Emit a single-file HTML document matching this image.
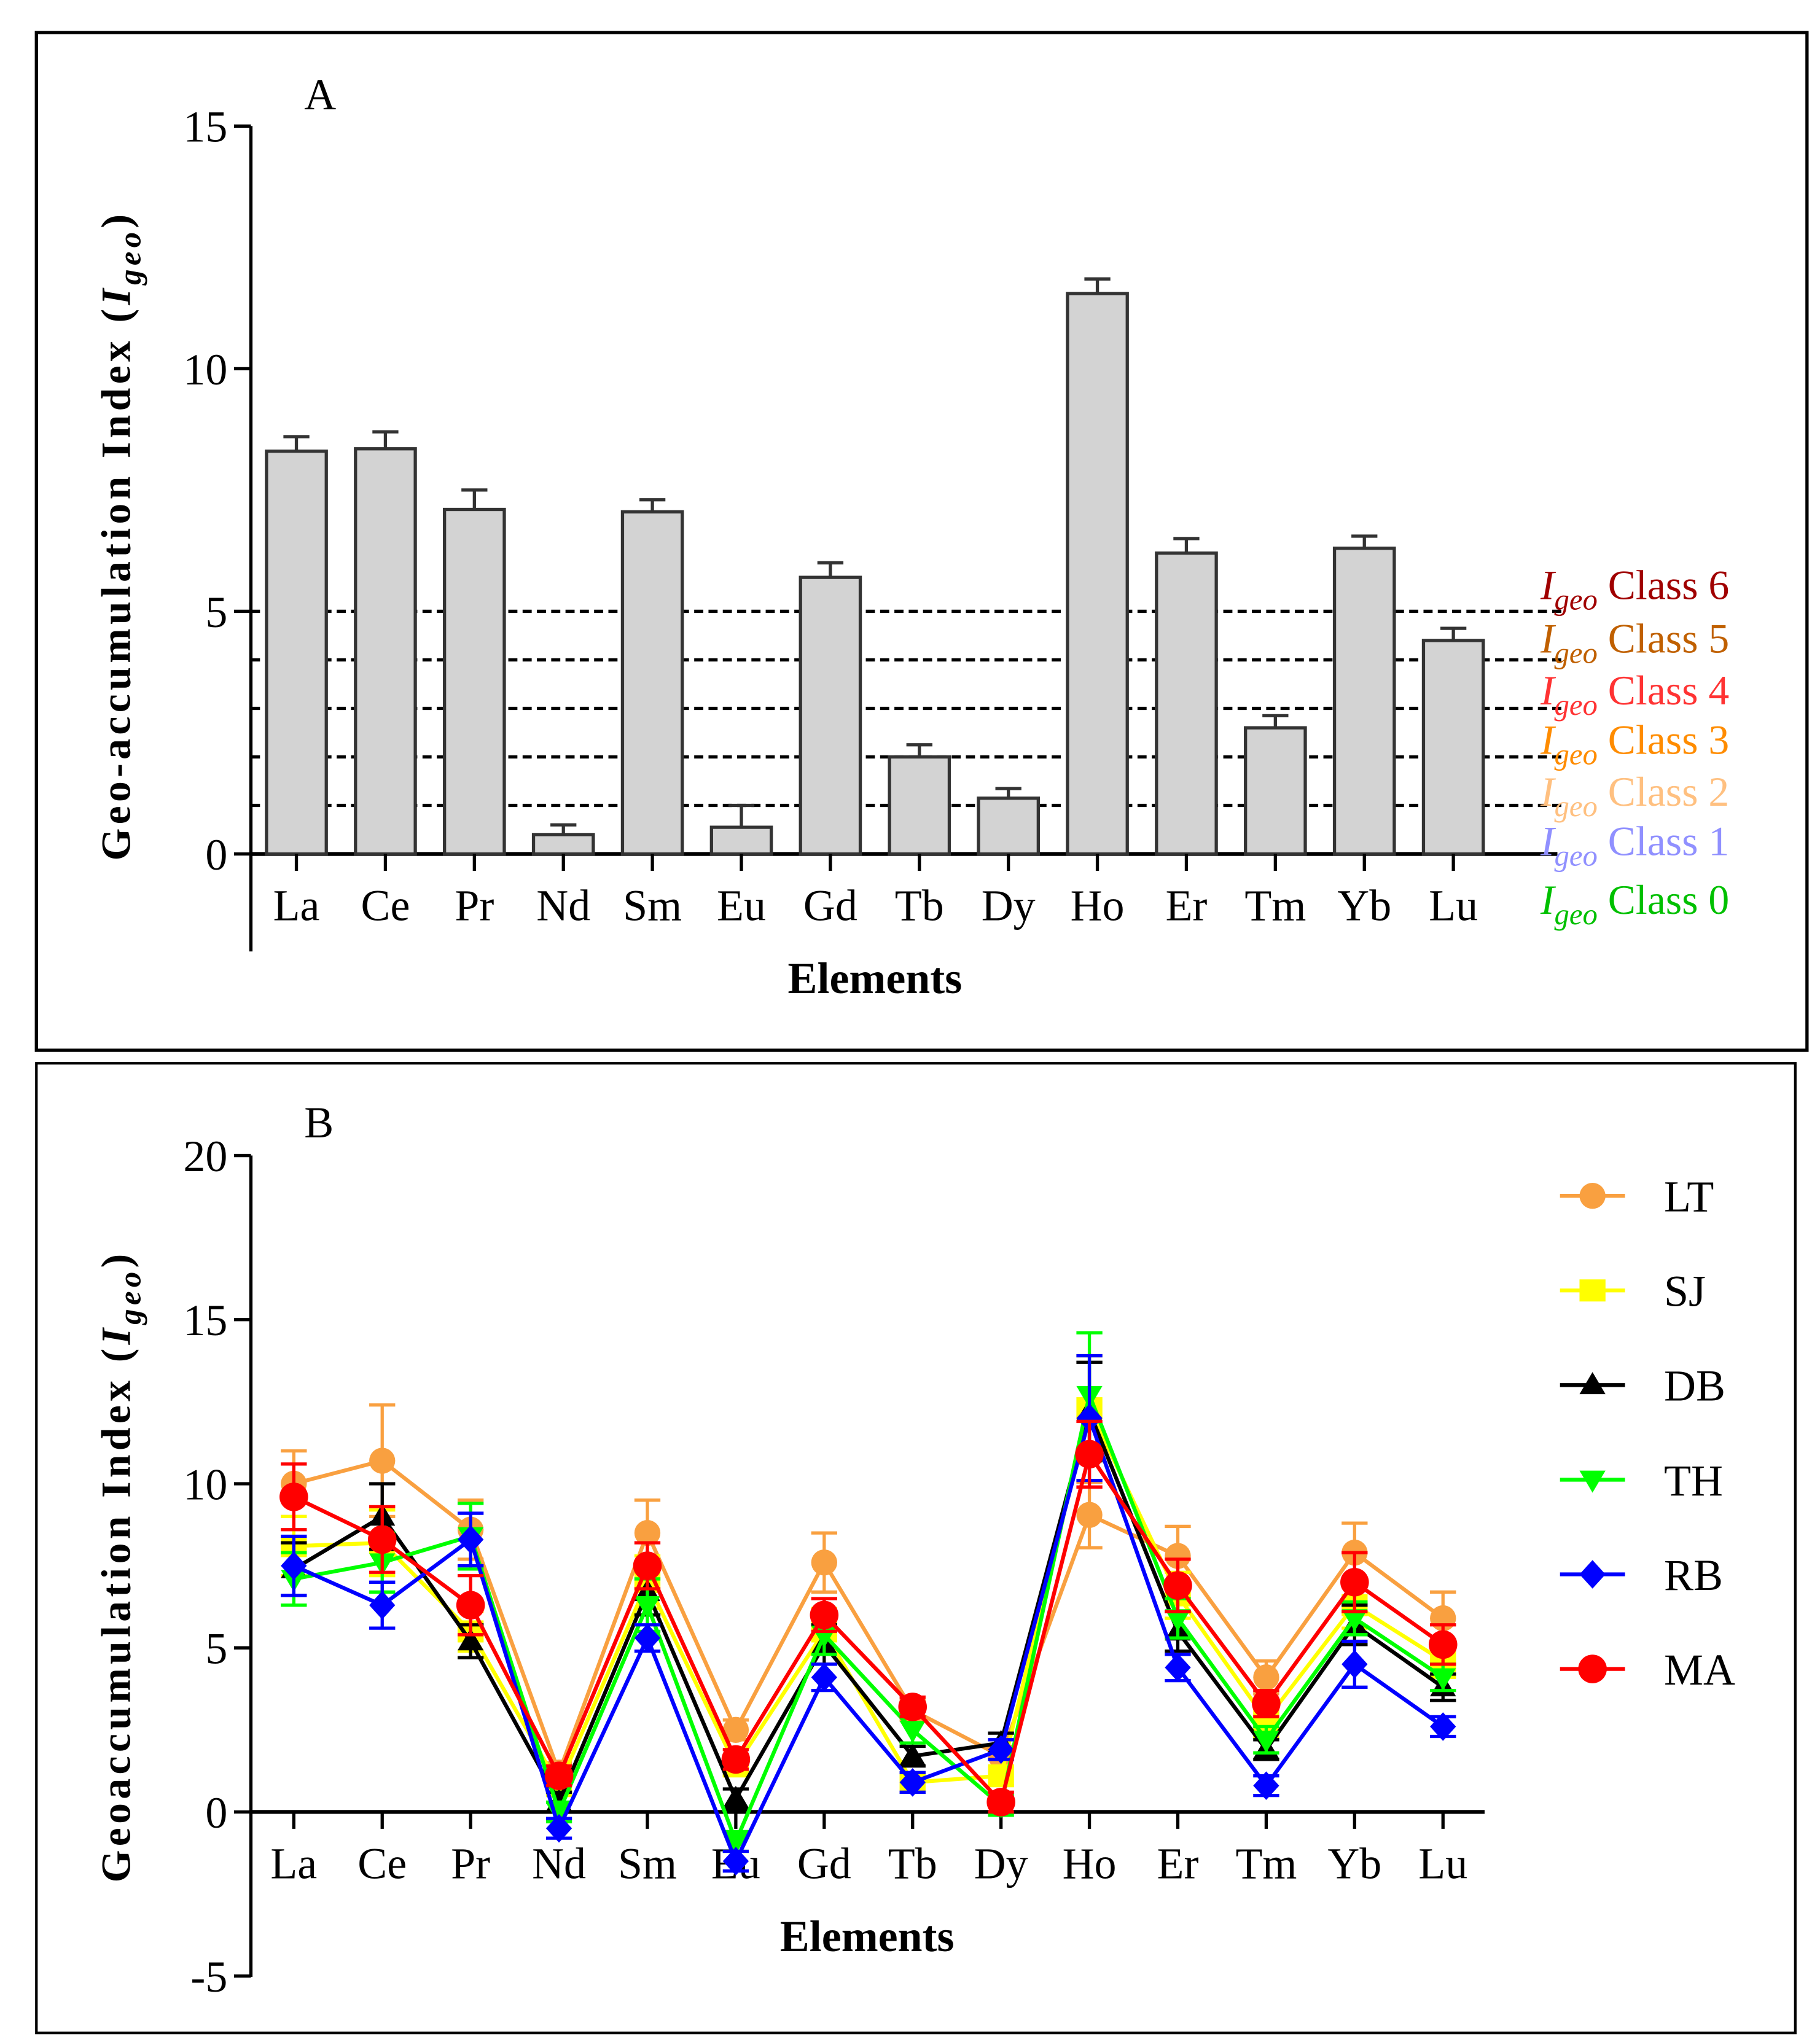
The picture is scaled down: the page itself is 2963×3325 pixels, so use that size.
<!DOCTYPE html>
<html><head><meta charset="utf-8"><style>
html,body{margin:0;padding:0;background:#fff}
svg{display:block}
text{font-family:"Liberation Serif",serif}
</style></head><body>
<svg id="fig" width="2963" height="3325" viewBox="0 0 1400 1571" preserveAspectRatio="none" xmlns="http://www.w3.org/2000/svg">
<rect x="28" y="25" width="1362" height="783" fill="none" stroke="#000" stroke-width="2.5"/>
<rect x="28" y="818" width="1353" height="746" fill="none" stroke="#000" stroke-width="2"/>
<text x="234" y="84" font-size="34">A</text>
<text x="234" y="875" font-size="34">B</text>
<g id="ga"></g>
<g id="gb"></g>
</svg>
<script>
const elements=["La","Ce","Pr","Nd","Sm","Eu","Gd","Tb","Dy","Ho","Er","Tm","Yb","Lu"];
const meanA=[8.3,8.35,7.1,0.4,7.05,0.55,5.7,2.0,1.15,11.55,6.2,2.6,6.3,4.4];
const errA=[0.3,0.35,0.4,0.2,0.25,0.45,0.3,0.25,0.2,0.3,0.3,0.25,0.25,0.25];
const ticksA=[0,5,10,15];
const classLevels=[5,4,3,2,1];
const classNames=["Class 6","Class 5","Class 4","Class 3","Class 2","Class 1","Class 0"];
const classColors=["#a00000","#c06000","#ff3333","#ff8c00","#ffc080","#9090ff","#00c000"];
const seriesNames=["LT","SJ","DB","TH","RB","MA"];
const seriesColors=["#f9a040","#ffff00","#000000","#00ff00","#0000ff","#ff0000"];
const seriesMarkers=["circle","square","triangle","triangleDown","diamond","circle"];
const valLT=[10.0,10.7,8.6,1.2,8.5,2.5,7.6,3.1,1.7,9.05,7.8,4.1,7.9,5.9];
const valSJ=[8.1,8.2,5.5,0.8,7.0,1.4,5.5,0.9,1.1,12.3,6.6,2.8,6.3,4.6];
const valDB=[7.4,9.0,5.2,0.3,6.7,0.4,5.1,1.7,2.1,12.2,5.5,1.9,5.7,3.8];
const valTH=[7.1,7.6,8.4,0.0,6.3,-0.9,5.4,2.5,0.2,12.7,5.9,2.2,5.9,4.1];
const valRB=[7.5,6.3,8.3,-0.5,5.3,-1.5,4.1,0.9,1.9,12.0,4.4,0.8,4.5,2.6];
const valMA=[9.6,8.3,6.3,1.1,7.5,1.6,6.0,3.2,0.3,10.9,6.9,3.3,7.0,5.1];
const errLT=[1.0,1.7,0.9,0.3,1.0,0.3,0.9,0.3,0.3,1.0,0.9,0.5,0.9,0.8];
const errSJ=[0.9,1.0,0.6,0.3,0.8,0.3,0.7,0.3,0.3,1.6,0.7,0.5,0.7,0.5];
const errDB=[0.8,1.0,0.5,0.3,0.7,0.3,0.6,0.3,0.3,1.5,0.6,0.3,0.6,0.4];
const errTH=[0.8,0.9,1.0,0.3,0.8,0.3,0.6,0.4,0.3,1.9,0.6,0.4,0.5,0.4];
const errRB=[0.9,0.7,0.8,0.3,0.4,0.3,0.4,0.3,0.3,1.9,0.4,0.3,0.7,0.3];
const errMA=[1.0,1.0,0.9,0.3,0.7,0.3,0.5,0.3,0.3,1.0,0.8,0.4,0.9,0.6];
const ticksB=[-5,0,5,10,15,20];
const NS="http://www.w3.org/2000/svg";
function mk(parent,tag,attrs,txt){const e=document.createElementNS(NS,tag);for(const k in attrs)e.setAttribute(k,attrs[k]);if(txt!==undefined)e.textContent=txt;parent.appendChild(e);return e;}
// Panel A
const ga=document.getElementById('ga');
const yA=v=>657-(v/15)*560;
const xA=i=>228+i*68.46;
mk(ga,'line',{x1:193,y1:97,x2:193,y2:732,stroke:'#000','stroke-width':2.5});
mk(ga,'line',{x1:193,y1:657,x2:1198,y2:657,stroke:'#000','stroke-width':3});
ticksA.forEach(t=>{
 const l=mk(ga,'line',{x1:180,y1:yA(t),x2:193,y2:yA(t),stroke:'#000','stroke-width':2.5});
 
 
 const tx=mk(ga,'text',{x:175,y:yA(t)+12,'font-size':34,'text-anchor':'end'},String(t));
 
 
});
classLevels.forEach(c=>{
 const l=mk(ga,'line',{x1:193,y1:yA(c),x2:1203,y2:yA(c),stroke:'#000','stroke-width':2.5,'stroke-dasharray':'7,4'});
 
 
});
meanA.forEach((v,i)=>{
 const x=xA(i);
 const b=mk(ga,'rect',{x:x-23,y:yA(v),width:46,height:yA(0)-yA(v),fill:'#d3d3d3',stroke:'#333','stroke-width':2.5});
 
 
 const e=mk(ga,'path',{d:`M${x},${yA(v)}V${yA(v+errA[i])}M${x-10},${yA(v+errA[i])}H${x+10}`,stroke:'#333','stroke-width':2.5,fill:'none'});
 
 
 mk(ga,'line',{x1:x,y1:657,x2:x,y2:670,stroke:'#000','stroke-width':2.5});
 const t=mk(ga,'text',{x:x,y:708,'font-size':34,'text-anchor':'middle'},elements[i]);
 
 
});
const clsY=[461,502,542,580,620,658,703];
classNames.forEach((n,i)=>{
 const t=mk(ga,'text',{x:1185,y:clsY[i],'font-size':32,fill:classColors[i]});
 
 
 mk(t,'tspan',{'font-style':'italic'},'I');
 mk(t,'tspan',{'font-style':'italic','font-size':23,dy:8},'geo');
 mk(t,'tspan',{dy:-8},' '+n);
});
{const t=mk(ga,'text',{x:673,y:764,'font-size':34,'font-weight':'bold','text-anchor':'middle'},'Elements');
}
{const t=mk(ga,'text',{transform:'translate(100,412) rotate(-90)','font-size':32,'font-weight':'bold','text-anchor':'middle','letter-spacing':'3'},'Geo-accumulation Index (');

mk(t,'tspan',{'font-style':'italic'},'I');mk(t,'tspan',{'font-style':'italic','font-size':24,dy:8},'geo');mk(t,'tspan',{dy:-8},')');}
// Panel B
const gb=document.getElementById('gb');
const yB=v=>1394-v*25.25;
const xB=i=>226+i*68;
mk(gb,'line',{x1:193,y1:889,x2:193,y2:1521,stroke:'#000','stroke-width':2.5});
mk(gb,'line',{x1:193,y1:1394,x2:1142,y2:1394,stroke:'#000','stroke-width':3});
ticksB.forEach(t=>{
 const l=mk(gb,'line',{x1:180,y1:yB(t),x2:193,y2:yB(t),stroke:'#000','stroke-width':2.5});
 
 
 const tx=mk(gb,'text',{x:175,y:yB(t)+12,'font-size':34,'text-anchor':'end'},String(t));
 
 
});
elements.forEach((el,i)=>{
 const x=xB(i);
 mk(gb,'line',{x1:x,y1:1394,x2:x,y2:1407,stroke:'#000','stroke-width':2.5});
 const t=mk(gb,'text',{x:x,y:1445,'font-size':34,'text-anchor':'middle'},el);
 
 
});
function marker(g,type,x,y,col,r){
 if(type==='circle')return mk(g,'circle',{cx:x,cy:y,r:r,fill:col});
 if(type==='square')return mk(g,'rect',{x:x-r,y:y-r*0.85,width:2*r,height:1.7*r,fill:col});
 if(type==='triangle')return mk(g,'path',{d:`M${x},${y-r}L${x+r},${y+r*0.7}L${x-r},${y+r*0.7}Z`,fill:col});
 if(type==='triangleDown')return mk(g,'path',{d:`M${x},${y+r}L${x+r},${y-r*0.7}L${x-r},${y-r*0.7}Z`,fill:col});
 return mk(g,'path',{d:`M${x},${y-r*1.1}L${x+r},${y}L${x},${y+r*1.1}L${x-r},${y}Z`,fill:col});
}
const allVals=[valLT,valSJ,valDB,valTH,valRB,valMA];
const allErr=[errLT,errSJ,errDB,errTH,errRB,errMA];
allVals.forEach((vals,s)=>{
 const g=mk(gb,'g',{});
 
 
 const col=seriesColors[s];
 vals.forEach((v,i)=>{
  const x=xB(i),e=allErr[s][i];
  mk(g,'path',{d:`M${x},${yB(v-e)}V${yB(v+e)}M${x-10},${yB(v+e)}H${x+10}M${x-10},${yB(v-e)}H${x+10}`,stroke:col,'stroke-width':2.5,fill:'none'});
 });
 mk(g,'polyline',{points:vals.map((v,i)=>xB(i)+','+yB(v)).join(' '),fill:'none',stroke:col,'stroke-width':3});
 vals.forEach((v,i)=>{
  const m=marker(g,seriesMarkers[s],xB(i),yB(v),col,s===5?11:10);
  
  
 });
 const ly=920+s*72.8;
 const lg=mk(gb,'g',{});
 
 
 mk(lg,'line',{x1:1200,y1:ly,x2:1250,y2:ly,stroke:col,'stroke-width':3});
 marker(lg,seriesMarkers[s],1225,ly,col,s===5?11:10);
 mk(lg,'text',{x:1280,y:ly+12,'font-size':34},seriesNames[s]);
});
{const t=mk(gb,'text',{x:667,y:1501,'font-size':34,'font-weight':'bold','text-anchor':'middle'},'Elements');
}
{const t=mk(gb,'text',{transform:'translate(100,1205) rotate(-90)','font-size':32,'font-weight':'bold','text-anchor':'middle','letter-spacing':'3'},'Geoaccumulation Index (');

mk(t,'tspan',{'font-style':'italic'},'I');mk(t,'tspan',{'font-style':'italic','font-size':24,dy:8},'geo');mk(t,'tspan',{dy:-8},')');}
</script>
</body></html>
